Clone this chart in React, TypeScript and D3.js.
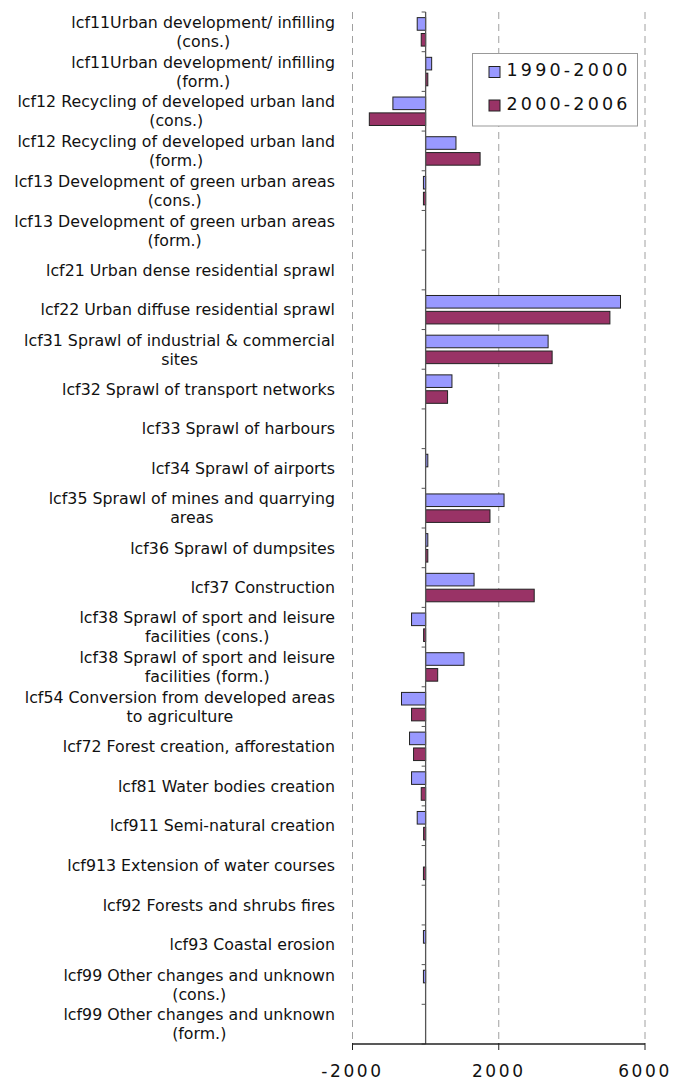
import React from 'react';
import * as d3 from 'd3';

const categories: string[][] = [
  ['lcf11Urban development/ infilling', '(cons.)'],
  ['lcf11Urban development/ infilling', '(form.)'],
  ['lcf12 Recycling of developed urban land', '(cons.)'],
  ['lcf12 Recycling of developed urban land', '(form.)'],
  ['lcf13 Development of green urban areas', '(cons.)'],
  ['lcf13 Development of green urban areas', '(form.)'],
  ['lcf21 Urban dense residential sprawl'],
  ['lcf22 Urban diffuse residential sprawl'],
  ['lcf31 Sprawl of industrial & commercial', 'sites'],
  ['lcf32 Sprawl of transport networks'],
  ['lcf33 Sprawl of harbours'],
  ['lcf34 Sprawl of airports'],
  ['lcf35 Sprawl of mines and quarrying', 'areas'],
  ['lcf36 Sprawl of dumpsites'],
  ['lcf37 Construction'],
  ['lcf38 Sprawl of sport and leisure', 'facilities (cons.)'],
  ['lcf38 Sprawl of sport and leisure', 'facilities (form.)'],
  ['lcf54 Conversion from developed areas', 'to agriculture'],
  ['lcf72 Forest creation, afforestation'],
  ['lcf81 Water bodies creation'],
  ['lcf911 Semi-natural creation'],
  ['lcf913 Extension of water courses'],
  ['lcf92 Forests and shrubs fires'],
  ['lcf93 Coastal erosion'],
  ['lcf99 Other changes and unknown', '(cons.)'],
  ['lcf99 Other changes and unknown', '(form.)'],
];

const values1990_2000: number[] = [
  -230, 165, -895, 830, -60, 0, 0, 5330, 3350, 720, 0, 60, 2145, 60, 1325,
  -385, 1050, -660, -440, -385, -230, 0, 0, -60, -60, 0,
];

const values2000_2006: number[] = [
  -120, 60, -1540, 1490, -60, 0, 0, 5040, 3460, 600, 0, 0, 1760, 60, 2970,
  -55, 330, -385, -330, -120, -55, -60, 0, 0, 0, 0,
];

const seriesNames: string[] = ['1990-2000', '2000-2006'];
const seriesColors: string[] = ['#9999FF', '#993366'];
const xTicks: number[] = [-2000, 2000, 6000];

const labelSize = 15.8;
const labelFont = `${labelSize}px 'DejaVu Sans'`;

let ctx: CanvasRenderingContext2D | null = null;
function measure(s: string): number {
  if (!ctx) {
    ctx = document.createElement('canvas').getContext('2d');
  }
  if (!ctx) return s.length * 8;
  ctx.font = labelFont;
  return ctx.measureText(s).width;
}

export default function App() {
  const W = 681;
  const H = 1082;
  const top = 12;
  const bottom = 1044;
  const x = d3.scaleLinear().domain([-2000, 6000]).range([352.5, 645]);
  const y = d3
    .scaleBand<number>()
    .domain(d3.range(categories.length))
    .range([top, bottom])
    .paddingInner(0)
    .paddingOuter(0);
  const bw = y.bandwidth();
  const sub = d3
    .scaleBand<number>()
    .domain([0, 1])
    .range([bw * 0.142, bw * 0.859])
    .paddingInner(0.206);
  const series = [values1990_2000, values2000_2006];
  const x0 = x(0);
  const labelRight = 335;
  const lineH = 19;

  return (
    <svg
      width={W}
      height={H}
      style={{ position: 'absolute', left: 0, top: 0, background: '#fff' }}
      fontFamily="'DejaVu Sans', Verdana, sans-serif"
    >
      <rect x={0} y={0} width={W} height={H} fill="#fff" />
      {/* gridlines */}
      {xTicks.map((t) => (
        <line
          key={'g' + t}
          x1={x(t)}
          x2={x(t)}
          y1={top}
          y2={bottom}
          stroke="#a0a0a0"
          strokeWidth={1}
          strokeDasharray="7 5"
        />
      ))}
      {/* bars */}
      {series.map((vals, si) =>
        vals.map((v, i) => {
          if (v === 0) return null;
          const bx = Math.min(x(v), x0);
          const w = Math.abs(x(v) - x0);
          return (
            <rect
              key={si + '-' + i}
              x={bx}
              y={(y(i) as number) + (sub(si) as number)}
              width={w}
              height={sub.bandwidth()}
              fill={seriesColors[si]}
              stroke="#222"
              strokeWidth={1}
            />
          );
        })
      )}
      {/* category axis */}
      <line x1={x0} x2={x0} y1={top} y2={bottom} stroke="#555" strokeWidth={1.3} />
      {d3.range(categories.length + 1).map((i) => {
        const yy = top + i * bw;
        return <line key={'ct' + i} x1={x0 - 4} x2={x0} y1={yy} y2={yy} stroke="#555" strokeWidth={1} />;
      })}
      {/* x axis */}
      <line x1={x(-2000)} x2={x(6000)} y1={bottom} y2={bottom} stroke="#222" strokeWidth={1.3} />
      {xTicks.map((t) => (
        <g key={'xt' + t}>
          <line x1={x(t)} x2={x(t)} y1={bottom - 1} y2={bottom + 6} stroke="#222" strokeWidth={1} />
          <text
            x={x(t)}
            y={1077}
            textAnchor="middle"
            fontSize={17}
            letterSpacing={2.6}
            fill="#111"
          >
            {String(t)}
          </text>
        </g>
      ))}
      {/* category labels */}
      {categories.map((lines, i) => {
        const c = (y(i) as number) + bw / 2;
        const n = lines.length;
        const maxW = Math.max(...lines.map(measure));
        return (
          <g key={'lab' + i} fontSize={labelSize} fill="#111">
            {lines.map((ln, li) => {
              const yy = c + (li - (n - 1) / 2) * lineH + 5.7;
              if (n === 1) {
                return (
                  <text key={li} x={labelRight} y={yy} textAnchor="end">
                    {ln}
                  </text>
                );
              }
              return (
                <text key={li} x={labelRight - maxW / 2} y={yy} textAnchor="middle">
                  {ln}
                </text>
              );
            })}
          </g>
        );
      })}
      {/* legend */}
      <rect x={472.5} y={53.5} width={165} height={72.5} fill="#fff" stroke="#999" strokeWidth={1} />
      {seriesNames.map((nm, si) => (
        <g key={'lg' + si}>
          <rect
            x={489}
            y={66.5 + si * 33.5}
            width={11}
            height={11}
            fill={seriesColors[si]}
            stroke="#222"
            strokeWidth={1}
          />
          <text x={506.5} y={76 + si * 34} fontSize={17.5} letterSpacing={3.2} fill="#111">
            {nm}
          </text>
        </g>
      ))}
    </svg>
  );
}
